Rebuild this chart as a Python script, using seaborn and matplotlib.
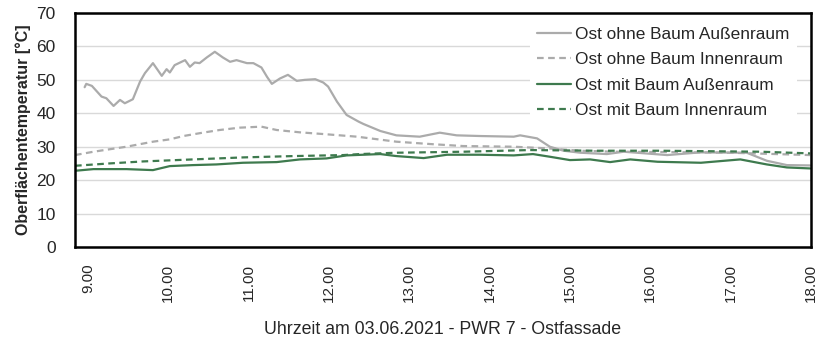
import pandas as pd
import seaborn as sns
import matplotlib.pyplot as plt

# time in hours (9.5 = 9:30), surface temperature in °C
ohne_aussen_t = [8.96, 8.98, 9.05, 9.17, 9.23, 9.32, 9.40, 9.46, 9.56, 9.65, 9.71, 9.81,
                 9.92, 9.98, 10.02, 10.08, 10.21, 10.27, 10.33, 10.39, 10.48, 10.58, 10.68,
                 10.77, 10.85, 10.98, 11.06, 11.16, 11.23, 11.29, 11.39, 11.49, 11.60, 11.70,
                 11.83, 11.93, 11.99, 12.10, 12.22, 12.37, 12.43, 12.64, 12.84, 13.13, 13.38,
                 13.59, 13.88, 14.30, 14.38, 14.59, 14.75, 14.92, 15.13, 15.46, 15.67, 16.21,
                 16.62, 17.20, 17.45, 17.70, 17.99]
ohne_aussen_v = [47.8, 48.8, 48.2, 45.0, 44.5, 42.2, 44.0, 43.0, 44.2, 49.5, 52.0, 55.0,
                 51.2, 53.2, 52.2, 54.4, 55.9, 53.9, 55.2, 55.0, 56.7, 58.4, 56.7,
                 55.4, 55.9, 55.0, 55.0, 53.7, 50.9, 48.8, 50.4, 51.5, 49.7, 50.0,
                 50.2, 49.2, 48.0, 43.5, 39.5, 37.5, 36.8, 34.7, 33.4, 33.0, 34.2,
                 33.4, 33.2, 33.0, 33.4, 32.5, 30.0, 28.8, 28.2, 27.8, 28.5, 27.5,
                 28.3, 28.2, 25.8, 24.5, 24.4]

ohne_innen_t = [8.84, 9.07, 9.48, 9.81, 10.02, 10.19, 10.43, 10.64, 10.89, 11.16, 11.35,
                11.64, 11.98, 12.35, 12.84, 13.26, 13.67, 14.30, 14.72, 15.13, 15.54,
                16.20, 17.00, 17.99]
ohne_innen_v = [27.5, 28.5, 30.0, 31.5, 32.2, 33.2, 34.2, 35.0, 35.7, 36.0, 35.0,
                34.3, 33.7, 33.0, 31.5, 30.8, 30.2, 30.0, 29.5, 28.8, 28.5,
                28.4, 28.2, 27.5]

mit_aussen_t = [8.84, 9.07, 9.48, 9.81, 10.02, 10.31, 10.60, 10.93, 11.35, 11.64, 11.97,
                12.22, 12.64, 12.84, 13.18, 13.47, 13.88, 14.30, 14.54, 14.75, 15.00,
                15.25, 15.50, 15.75, 16.09, 16.63, 17.12, 17.45, 17.70, 17.99]
mit_aussen_v = [22.8, 23.3, 23.3, 23.0, 24.2, 24.5, 24.7, 25.2, 25.4, 26.2, 26.5,
                27.4, 27.8, 27.2, 26.6, 27.6, 27.6, 27.4, 27.8, 27.0, 26.0,
                26.2, 25.4, 26.2, 25.5, 25.2, 26.2, 24.7, 23.8, 23.5]

mit_innen_t = [8.84, 9.27, 9.69, 10.31, 10.93, 11.56, 12.18, 12.39, 12.84, 13.67,
               14.50, 15.33, 16.13, 17.38, 17.99]
mit_innen_v = [24.3, 25.0, 25.6, 26.2, 26.8, 27.2, 27.5, 27.8, 28.2, 28.5,
               29.0, 28.8, 28.8, 28.5, 28.0]

labels = ['Ost ohne Baum Außenraum', 'Ost ohne Baum Innenraum',
          'Ost mit Baum Außenraum', 'Ost mit Baum Innenraum']
colors = ['#ABABAB', '#ABABAB', '#3E7A4E', '#3E7A4E']
styles = ['-', (0, (3, 2)), '-', (0, (3, 2))]
series = [(ohne_aussen_t, ohne_aussen_v), (ohne_innen_t, ohne_innen_v),
          (mit_aussen_t, mit_aussen_v), (mit_innen_t, mit_innen_v)]

hour_ticks = list(range(9, 19))
hour_labels = [f'{h}.00' for h in hour_ticks]

sns.set_style('white')
plt.rcParams['font.family'] = ['Liberation Sans', 'DejaVu Sans']

fig = plt.figure(figsize=(8.23, 3.61), dpi=100)
ax = fig.add_axes([75 / 823, 1 - 247 / 361, 736 / 823, 234 / 361])

for (t, v), lab, col, ls in zip(series, labels, colors, styles):
    df = pd.DataFrame({'Zeit': t, 'Temp': v})
    sns.lineplot(data=df, x='Zeit', y='Temp', color=col, linewidth=1.6,
                 linestyle=ls, label=lab, ax=ax, sort=False, estimator=None)

ax.set_xlim(8.84, 18.0)
ax.set_ylim(0, 70)
ax.set_yticks(range(0, 71, 10))
ax.set_yticklabels([str(y) for y in range(0, 71, 10)], fontsize=12.5)
ax.set_xticks(hour_ticks)
ax.set_xticklabels(hour_labels, rotation=90, fontsize=11, va='top')
ax.tick_params(length=0, pad=12, axis='x')
ax.tick_params(length=0, pad=14, axis='y')
ax.grid(axis='y', color='#D9D9D9', linewidth=1)
ax.set_axisbelow(True)
for sp in ax.spines.values():
    sp.set_color('black')
    sp.set_linewidth(1.8)

ax.set_ylabel('Oberflächentemperatur [°C]', fontsize=11.5, fontweight='bold', labelpad=4)
ax.set_xlabel('Uhrzeit am 03.06.2021 - PWR 7 - Ostfassade', fontsize=12.8,
              labelpad=14)

leg = ax.legend(loc='upper right', bbox_to_anchor=(0.99, 1.0), borderaxespad=0.4,
                frameon=True, facecolor='white', edgecolor='none', framealpha=1,
                fontsize=12.4, handlelength=2.0, handletextpad=0.25, labelspacing=0.6)

fig.savefig('out.png', dpi=100)
